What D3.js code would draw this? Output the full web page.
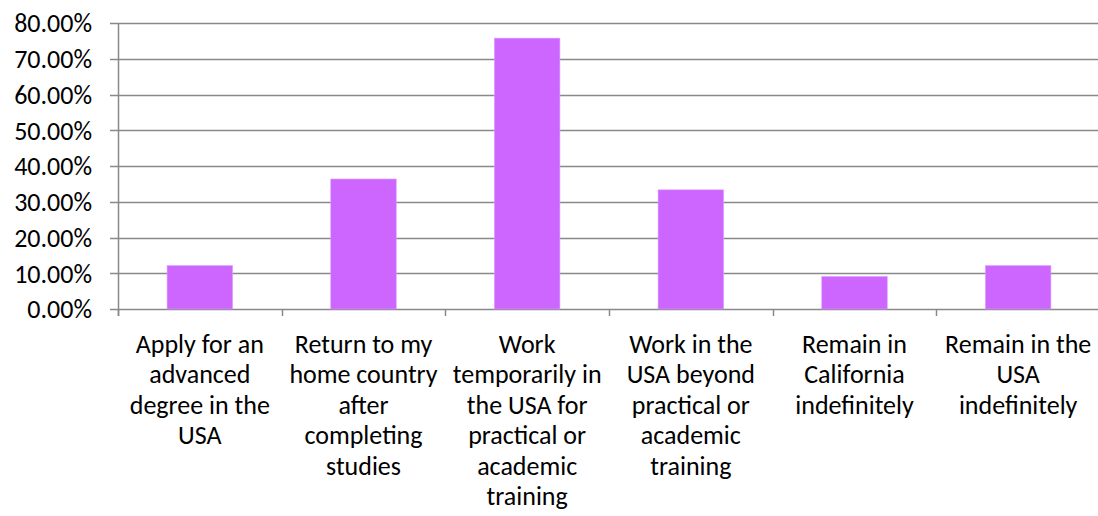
<!DOCTYPE html>
<html lang="en">
	<head>
		<meta charset="UTF-8"/>
		<title>Plans after studies</title>
		<script type="text/javascript" src="https://cdn.jsdelivr.net/npm/d3@7"></script>
		<style>
			body { margin: 0; background: #fff; }
			text { font-family: Carlito, Calibri, Lato, sans-serif; fill: #000; }
		</style>
	</head>
	<body>
		<script type="text/javascript">
			var w = 1098;
			var h = 516;

			// data
			var categories = [
				["Apply for an", "advanced", "degree in the", "USA"],
				["Return to my", "home country", "after", "completing", "studies"],
				["Work", "temporarily in", "the USA for", "practical or", "academic", "training"],
				["Work in the", "USA beyond", "practical or", "academic", "training"],
				["Remain in", "California", "indefinitely"],
				["Remain in the", "USA", "indefinitely"]
			];
			var values = [0.1212, 0.3636, 0.7576, 0.3333, 0.0909, 0.1212];
			var yTicks = [0, 0.1, 0.2, 0.3, 0.4, 0.5, 0.6, 0.7, 0.8];

			var plotLeft = 118, plotRight = 1100, plotTop = 23, plotBottom = 309;

			var xScale = d3.scaleBand()
				.domain(d3.range(values.length))
				.range([plotLeft, plotRight])
				.paddingInner(0.6)
				.paddingOuter(0.3);

			var yScale = d3.scaleLinear()
				.domain([0, 0.8])
				.range([plotBottom, plotTop]);

			var svg = d3.select("body")
				.append("svg")
				.attr("width", w)
				.attr("height", h);

			// gridlines
			svg.selectAll("line.grid")
				.data(yTicks)
				.enter()
				.append("line")
				.attr("class", "grid")
				.attr("x1", plotLeft - 8)
				.attr("x2", plotRight)
				.attr("y1", function(d) { return Math.round(yScale(d)) + 0.5; })
				.attr("y2", function(d) { return Math.round(yScale(d)) + 0.5; })
				.attr("stroke", "#898989")
				.attr("stroke-width", 1.5);

			// y labels
			svg.selectAll("text.ylab")
				.data(yTicks)
				.enter()
				.append("text")
				.attr("class", "ylab")
				.attr("x", 92)
				.attr("y", function(d) { return yScale(d); })
				.attr("dy", "0.36em")
				.attr("text-anchor", "end")
				.attr("font-size", "26px")
				.text(function(d) { return (d * 100).toFixed(2) + "%"; });

			// bars
			svg.selectAll("rect")
				.data(values)
				.enter()
				.append("rect")
				.attr("x", function(d, i) { return xScale(i); })
				.attr("y", function(d) { return yScale(d); })
				.attr("width", xScale.bandwidth())
				.attr("height", function(d) { return plotBottom - yScale(d); })
				.attr("fill", "#cc66ff")
				.attr("stroke", "#dd99ff")
				.attr("stroke-width", 0.6);

			// axes
			svg.append("line")
				.attr("x1", plotLeft + 0.5).attr("x2", plotLeft + 0.5)
				.attr("y1", plotTop).attr("y2", plotBottom + 7)
				.attr("stroke", "#898989")
				.attr("stroke-width", 1.5);

			var step = (plotRight - plotLeft) / values.length;
			svg.selectAll("line.xtick")
				.data(d3.range(values.length + 1))
				.enter()
				.append("line")
				.attr("class", "xtick")
				.attr("x1", function(d) { return Math.round(plotLeft + d * step) + 0.5; })
				.attr("x2", function(d) { return Math.round(plotLeft + d * step) + 0.5; })
				.attr("y1", plotBottom)
				.attr("y2", plotBottom + 7)
				.attr("stroke", "#898989")
				.attr("stroke-width", 1.5);

			// category labels
			var lab = svg.selectAll("text.xlab")
				.data(categories)
				.enter()
				.append("text")
				.attr("class", "xlab")
				.attr("text-anchor", "middle")
				.attr("font-size", "26px");

			lab.selectAll("tspan")
				.data(function(d, i) { return d.map(function(s) { return { s: s, i: i }; }); })
				.enter()
				.append("tspan")
				.attr("x", function(d) { return xScale(d.i) + xScale.bandwidth() / 2; })
				.attr("y", function(d, j) { return 353 + j * 30.4; })
				.text(function(d) { return d.s; });
		</script>
	</body>
</html>
